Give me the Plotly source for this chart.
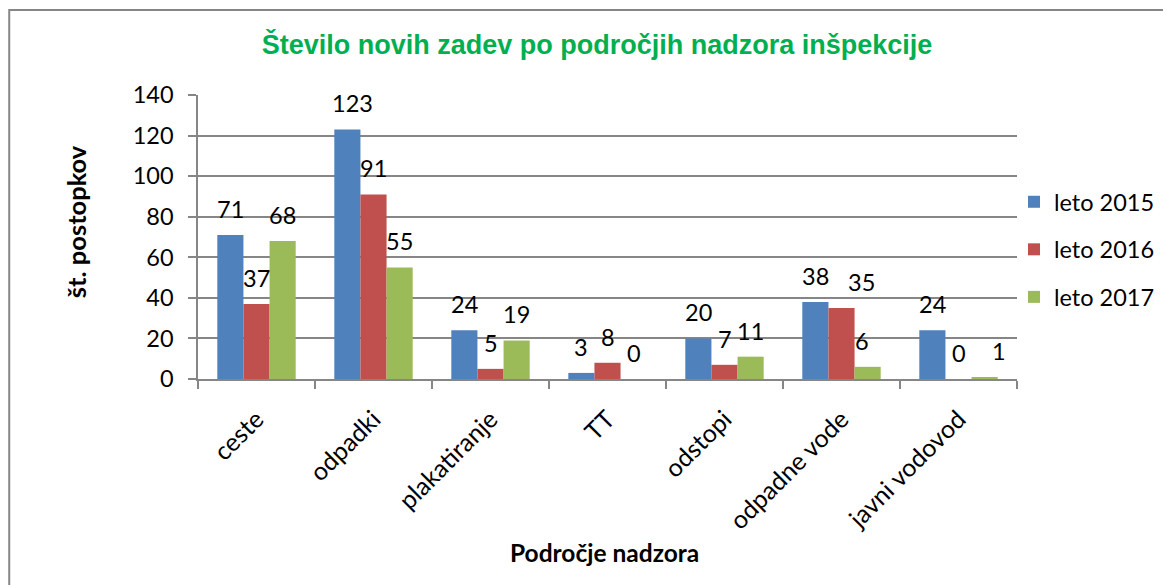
import plotly.graph_objects as go

categories = ["ceste", "odpadki", "plakatiranje", "TT", "odstopi", "odpadne vode", "javni vodovod"]
leto_2015 = [71, 123, 24, 3, 20, 38, 24]
leto_2016 = [37, 91, 5, 8, 7, 35, 0]
leto_2017 = [68, 55, 19, 0, 11, 6, 1]
series_names = ["leto 2015", "leto 2016", "leto 2017"]
colors = ["#4F81BD", "#C0504D", "#9BBB59"]
y_ticks = [0, 20, 40, 60, 80, 100, 120, 140]

# small horizontal label nudges (px) as in the original, keyed by (category, series index)
label_nudge = {("odpadne vode", 1): 20, ("odpadne vode", 2): -6, ("javni vodovod", 2): 14, ("odpadki", 0): 5}

FONT = "Lato"
FS = 23.5
OFF = 8  # page body margin
FW, FH = 1171 - OFF, 585 - OFF
BARGAP = 0.33

L, R, T, B = 198 - OFF, 1018 - OFF, 95 - OFF, 379 - OFF
W, H = R - L, B - T

def px(x):
    return (x - OFF - L) / W

def py(y):
    return (B - (y - OFF)) / H

all_series = [leto_2015, leto_2016, leto_2017]
n_s = len(all_series)
bar_w = W / len(categories) * (1 - BARGAP) / n_s

fig = go.Figure()
for i, (name, vals) in enumerate(zip(series_names, all_series)):
    fig.add_trace(go.Bar(
        x=categories, y=vals, name=name, marker_color=colors[i],
        marker_line_width=0, legendgroup=name,
    ))
    for c, v in zip(categories, vals):
        fig.add_annotation(
            x=c, y=v, xref="x", yref="y", text=str(v), showarrow=False,
            xanchor="center", yanchor="bottom", yshift=10,
            xshift=(i - (n_s - 1) / 2) * bar_w + label_nudge.get((c, i), 0),
            font=dict(family=FONT, size=FS, color="black"),
        )

fig.update_layout(
    width=FW, height=FH,
    margin=dict(l=L, r=FW - R, t=T, b=FH - B, pad=0),
    paper_bgcolor="white", plot_bgcolor="white",
    barmode="group", bargap=BARGAP, bargroupgap=0,
    font=dict(family=FONT, size=FS, color="black"),
    title=dict(text="<b>Število novih zadev po področjih nadzora inšpekcije</b>",
               font=dict(family="Liberation Sans", size=27, color="#00B050"),
               x=(597 - OFF) / FW, xanchor="center", y=1 - (45 - OFF) / FH, yanchor="middle"),
    legend=dict(x=px(1014), y=py(180), xanchor="left", yanchor="top",
                font=dict(family=FONT, size=FS), tracegroupgap=14,
                traceorder="grouped", itemwidth=30, bgcolor="rgba(0,0,0,0)"),
    showlegend=True,
)
fig.update_xaxes(
    type="category", showline=True, linecolor="#868686", linewidth=1.5,
    ticks="outside", tickson="boundaries", ticklen=8, tickcolor="#868686", tickwidth=1.5,
    tickangle=-45, tickfont=dict(family=FONT, size=25), showgrid=False,
    ticklabelstandoff=14,
)
fig.update_yaxes(
    range=[0, 140], tickvals=y_ticks, showline=True, linecolor="#868686", linewidth=1.5,
    ticks="outside", ticklen=8, tickcolor="#868686", tickwidth=1.5,
    showgrid=True, gridcolor="#868686", gridwidth=1.5, zeroline=False,
    tickfont=dict(family=FONT, size=FS), ticklabelstandoff=10,
)
fig.add_annotation(text="<b>Področje nadzora</b>", xref="paper", yref="paper",
                   x=px(605), y=py(552), showarrow=False,
                   xanchor="center", yanchor="middle",
                   font=dict(family=FONT, size=24.5, color="black"))
fig.add_annotation(text="<b>št. postopkov</b>", xref="paper", yref="paper",
                   x=px(76), y=py(222), showarrow=False, textangle=-90,
                   xanchor="center", yanchor="middle",
                   font=dict(family=FONT, size=25.5, color="black"))
fig.add_shape(type="rect", xref="paper", yref="paper",
              x0=px(9), x1=px(1200), y0=py(10), y1=py(620),
              line=dict(color="#868686", width=2), fillcolor="rgba(0,0,0,0)", layer="below")

fig.write_html("out.html")
